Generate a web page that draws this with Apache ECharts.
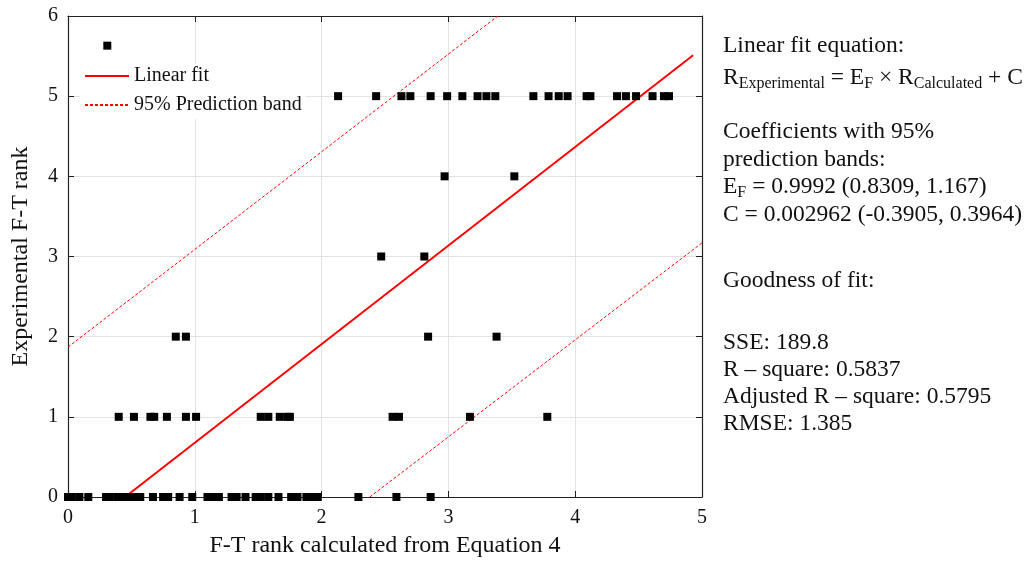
<!DOCTYPE html>
<html>
<head>
<meta charset="utf-8">
<script src="https://cdn.jsdelivr.net/npm/echarts@6/dist/echarts.min.js"></script>
<style>
  html, body { margin: 0; padding: 0; background: #fff; }
  #chart { width: 1036px; height: 563px; }
</style>
</head>
<body>
<div id="chart"></div>
<script>
// measured points, grouped by experimental rank
const y0X = [0.0, 0.03, 0.09, 0.16, 0.30, 0.33, 0.39, 0.43, 0.47, 0.52, 0.57, 0.67, 0.75, 0.79, 0.88, 0.98,
  1.10, 1.15, 1.19, 1.29, 1.33, 1.40, 1.48, 1.52, 1.58, 1.66, 1.76, 1.81, 1.88, 1.93, 1.97, 2.29, 2.59, 2.86];
const y1X = [0.40, 0.52, 0.65, 0.68, 0.78, 0.93, 1.01, 1.52, 1.58, 1.67, 1.73, 1.75, 2.56, 2.61, 3.17, 3.78];
const y2X = [0.85, 0.93, 2.84, 3.38];
const y3X = [2.47, 2.81];
const y4X = [2.97, 3.52];
const y5X = [2.13, 2.43, 2.63, 2.70, 2.86, 2.99, 3.11, 3.23, 3.30, 3.37, 3.67, 3.79, 3.87, 3.94,
  4.09, 4.12, 4.33, 4.40, 4.48, 4.61, 4.70, 4.74];
const extraPts = [[0.31, 5.63]];

// fit line and prediction band end points
const fitLine = [[0.45, 0], [4.93, 5.51]];
const upperBand = [[0, 1.87], [3.39, 6]];
const lowerBand = [[2.38, 0], [5, 3.17]];

const xTicks = [0, 1, 2, 3, 4, 5];
const yTicks = [0, 1, 2, 3, 4, 5, 6];

const points = [];
[[y0X, 0], [y1X, 1], [y2X, 2], [y3X, 3], [y4X, 4], [y5X, 5]].forEach(function (g) {
  g[0].forEach(function (x) { points.push([x, g[1]]); });
});
extraPts.forEach(function (p) { points.push(p); });

const font = "'Liberation Serif', 'Times New Roman', serif";

const myChart = echarts.init(document.getElementById("chart"));

const axisBase = {
  type: "value",
  axisLine: { show: true, onZero: false, lineStyle: { color: "#222", width: 1.2 } },
  axisTick: { show: true, inside: true, length: 6, lineStyle: { color: "#222" } },
};

// right hand text panel
const rich = {
  n: { fontSize: 23.5, fontFamily: font, color: "#111", lineHeight: 28, verticalAlign: "middle" },
  s: { fontSize: 16, fontFamily: font, color: "#111", lineHeight: 14, verticalAlign: "bottom" },
};
const panelLines = [
  ["{n|Linear fit equation:}", 48],
  ["{n|R}{s|Experimental}{n| = E}{s|F}{n| × R}{s|Calculated}{n| + C}", 80],
  ["{n|Coefficients with 95%}", 134],
  ["{n|prediction bands:}", 162],
  ["{n|E}{s|F}{n| = 0.9992 (0.8309, 1.167)}", 189],
  ["{n|C = 0.002962 (-0.3905, 0.3964)}", 217],
  ["{n|Goodness of fit:}", 283],
  ["{n|SSE: 189.8}", 345],
  ["{n|R – square: 0.5837}", 372],
  ["{n|Adjusted R – square: 0.5795}", 399],
  ["{n|RMSE: 1.385}", 426],
];

const option = {
  animation: false,
  backgroundColor: "#fff",
  grid: { left: 68, right: 334, top: 16, bottom: 64 },
  legend: {
    orient: "vertical",
    left: 80,
    top: 64,
    itemWidth: 44,
    itemHeight: 10,
    itemGap: 9,
    backgroundColor: "#fff",
    padding: [2, 4, 4, 4],
    itemStyle: { opacity: 0 },
    data: ["Linear fit", "95% Prediction band"],
    textStyle: { fontSize: 20, fontFamily: font, color: "#111" },
  },
  xAxis: [
    Object.assign({}, axisBase, {
      min: xTicks[0], max: xTicks[xTicks.length - 1], interval: 1,
      position: "bottom",
      name: "F-T rank calculated from Equation 4",
      nameLocation: "middle",
      nameGap: 37,
      nameTextStyle: { fontSize: 24, fontFamily: font, color: "#111" },
      axisLabel: { fontSize: 20, fontFamily: font, color: "#111", margin: 11 },
      splitLine: { show: true, lineStyle: { color: "#e3e3e3" } },
    }),
    Object.assign({}, axisBase, {
      min: xTicks[0], max: xTicks[xTicks.length - 1], interval: 1,
      position: "top",
      axisLabel: { show: false },
      splitLine: { show: false },
    }),
  ],
  yAxis: [
    Object.assign({}, axisBase, {
      min: yTicks[0], max: yTicks[yTicks.length - 1], interval: 1,
      position: "left",
      name: "Experimental F-T rank",
      nameLocation: "middle",
      nameGap: 35,
      nameRotate: 90,
      nameTextStyle: { fontSize: 24, fontFamily: font, color: "#111" },
      axisLabel: { fontSize: 20, fontFamily: font, color: "#111", margin: 10 },
      splitLine: { show: true, lineStyle: { color: "#e3e3e3" } },
    }),
    Object.assign({}, axisBase, {
      min: yTicks[0], max: yTicks[yTicks.length - 1], interval: 1,
      position: "right",
      axisLabel: { show: false },
      splitLine: { show: false },
    }),
  ],
  series: [
    {
      name: "95% Prediction band",
      type: "line",
      data: upperBand,
      symbol: "none",
      lineStyle: { color: "#ff0000", width: 1, type: [3, 2] },
      itemStyle: { color: "#ff0000" },
      z: 3,
    },
    {
      name: "95% Prediction band",
      type: "line",
      data: lowerBand,
      symbol: "none",
      lineStyle: { color: "#ff0000", width: 1, type: [3, 2] },
      itemStyle: { color: "#ff0000" },
      z: 3,
    },
    {
      name: "Linear fit",
      type: "line",
      data: fitLine,
      symbol: "none",
      lineStyle: { color: "#ff0000", width: 2 },
      itemStyle: { color: "#ff0000" },
      z: 4,
    },
    {
      name: "data",
      type: "scatter",
      data: points,
      symbol: "rect",
      symbolSize: 8,
      clip: false,
      itemStyle: { color: "#000", opacity: 1 },
      z: 5,
    },
  ],
  graphic: panelLines.map(function (l) {
    return {
      type: "text",
      left: 723,
      top: l[1] - 14,
      style: { text: l[0], rich: rich, fill: "#111" },
    };
  }),
};

myChart.setOption(option, true);
window.addEventListener("resize", function () {
  myChart.resize();
});
</script>
</body>
</html>
